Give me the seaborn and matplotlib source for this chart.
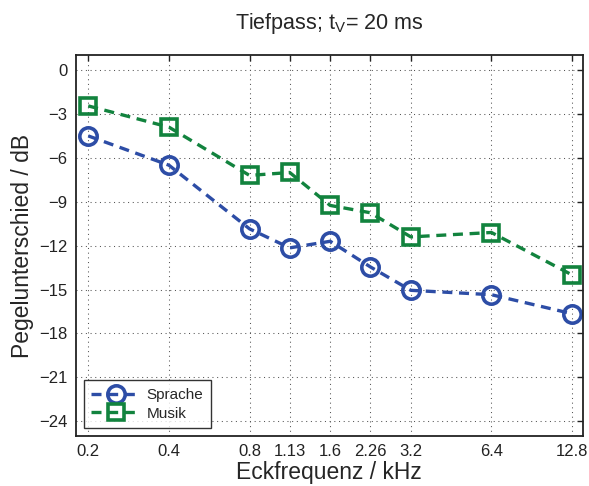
import matplotlib
matplotlib.use("Agg")
import matplotlib.pyplot as plt
import matplotlib.ticker as mticker
import seaborn as sns
import pandas as pd

freqs = [0.2, 0.4, 0.8, 1.13, 1.6, 2.26, 3.2, 6.4, 12.8]
tick_labels = ["0.2", "0.4", "0.8", "1.13", "1.6", "2.26", "3.2", "6.4", "12.8"]
sprache = [-4.5, -6.5, -10.85, -12.15, -11.7, -13.45, -15.05, -15.35, -16.65]
musik = [-2.45, -3.9, -7.2, -7.0, -9.25, -9.75, -11.4, -11.1, -14.0]
y_ticks = [0, -3, -6, -9, -12, -15, -18, -21, -24]

sns.set_style("white")
plt.rcParams["font.family"] = ["Liberation Sans", "DejaVu Sans"]
plt.rcParams["mathtext.fontset"] = "custom"
plt.rcParams["mathtext.rm"] = "Liberation Sans"
plt.rcParams["mathtext.it"] = "Liberation Sans"

fig = plt.figure(figsize=(5.89, 4.86), dpi=100)
ax = fig.add_axes([0.129, 0.103, 0.860, 0.783])

df_s = pd.DataFrame({"f": freqs, "v": sprache})
df_m = pd.DataFrame({"f": freqs, "v": musik})

blue = "#2D4DA6"
green = "#12833E"

sns.lineplot(data=df_s, x="f", y="v", ax=ax, color=blue, linestyle=(0, (3.0, 2.0)),
             lw=2.4, marker="o", markersize=12.5, markerfacecolor="none",
             markeredgecolor=blue, markeredgewidth=2.6, label="Sprache")
sns.lineplot(data=df_m, x="f", y="v", ax=ax, color=green, linestyle=(0, (3.0, 2.0)),
             lw=2.4, marker="s", markersize=11, markerfacecolor="none",
             markeredgecolor=green, markeredgewidth=2.6, label="Musik")

ax.set_xscale("log")
ax.set_xlim(0.18, 14.0)
ax.set_ylim(-25, 1)
ax.xaxis.set_major_locator(mticker.FixedLocator(freqs))
ax.xaxis.set_major_formatter(mticker.FixedFormatter(tick_labels))
ax.xaxis.set_minor_locator(mticker.NullLocator())
ax.set_yticks(y_ticks)
ax.set_yticklabels(["0" if t == 0 else "\u2212" + str(-t) for t in y_ticks])

ax.grid(True, color="#555555", linestyle=(0, (1, 3.5)), linewidth=0.75)
ax.tick_params(direction="in", top=True, right=True, length=4, width=1,
               labelsize=12, colors="#222222", pad=6)
for sp in ax.spines.values():
    sp.set_color("#222222")
    sp.set_linewidth(1.3)

ax.set_xlabel("Eckfrequenz / kHz", fontsize=16.5, labelpad=1)
ax.set_ylabel("Pegelunterschied / dB", fontsize=16.5, labelpad=4)
ax.set_title("Tiefpass; t$_\\mathregular{V}$= 20 ms", fontsize=15.5, pad=19)

leg = ax.legend(loc="lower left", fontsize=11, frameon=True, fancybox=False,
                edgecolor="black", handlelength=3.2, borderaxespad=0.5,
                borderpad=0.5, labelspacing=0.3, handletextpad=0.4)
leg.get_frame().set_linewidth(1.0)

fig.savefig("out.png", dpi=100)
